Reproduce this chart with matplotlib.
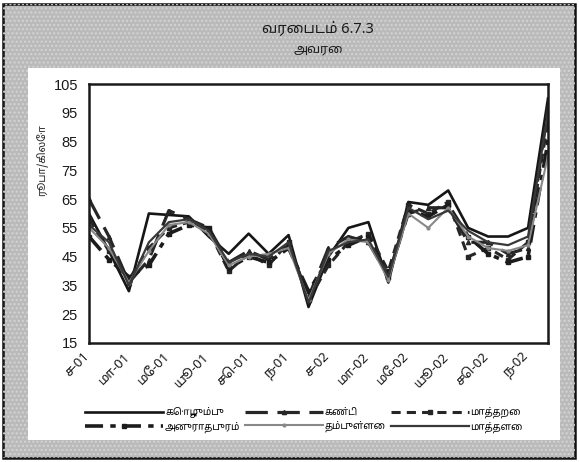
import matplotlib
matplotlib.use("Agg")
import matplotlib.pyplot as plt
from matplotlib.patches import Rectangle
from matplotlib.transforms import ScaledTranslation

TAMIL = ["Noto Sans Tamil", "DejaVu Sans"]
NUM = ["Liberation Sans Narrow", "Liberation Sans", "DejaVu Sans"]

# ── data (Rs/kg, monthly Jan-01 .. Dec-02) ─────────────────────────────────────
months = ["ச-01", "பெ-01", "மா-01", "ஏ-01", "மே-01", "யூ-01", "யூ-01", "ஓ-01",
          "செ-01", "ஒ-01", "ந-01", "டி-01", "ச-02", "பெ-02", "மா-02", "ஏ-02",
          "மே-02", "யூ-02", "யூ-02", "ஓ-02", "செ-02", "ஒ-02", "ந-02", "டி-02"]

colombo      = [60, 47, 33, 60, 59.5, 59, 52, 46, 53, 46, 52.5, 27.5,
                45, 55, 57, 36, 64, 63, 68, 55, 52, 52, 55, 100]
kandy        = [65, 52, 36, 44, 61, 58, 55, 43, 47, 44, 49, 31,
                48, 52, 50, 38, 60, 62, 62, 50, 50, 46, 48, 97]
matara       = [58, 47, 37, 48, 55, 57, 54, 40, 46, 42, 50, 30,
                42, 50, 53, 40, 63, 60, 64, 45, 48, 44, 50, 92]
anuradhapura = [52, 44, 38, 42, 53, 56, 55, 41, 45, 43, 48, 33,
                44, 49, 52, 38, 61, 59, 63, 52, 46, 43, 45, 85]
dambulla     = [55, 48, 36, 47, 56, 57, 53, 42, 45, 46, 48, 30,
                46, 51, 50, 37, 60, 55, 62, 52, 48, 47, 49, 80]
matale       = [56, 50, 35, 50, 57, 58, 54, 43, 46, 45, 50, 29,
                47, 50, 51, 38, 62, 58, 61, 54, 50, 49, 52, 95]

names = ["கொழும்பு", "கண்டி", "மாத்தறை", "அனுராதபுரம்", "தம்புள்ளை", "மாத்தளை"]
yticks = [15, 25, 35, 45, 55, 65, 75, 85, 95, 105]

W, H = 579, 462
fig = plt.figure(figsize=(W / 100, H / 100), dpi=100, facecolor="white")

# ── frame: grey border + white chart area ──────────────────────────────────────
fig.patches.append(Rectangle((3 / W, 4 / H), 572 / W, 454 / H, transform=fig.transFigure,
                             facecolor="#bababa", edgecolor="#111111", lw=1.8, zorder=-3))
fig.patches.append(Rectangle((3 / W, 4 / H), 572 / W, 454 / H, transform=fig.transFigure,
                             facecolor="none", edgecolor="#d4d4d4", hatch="....", lw=0, zorder=-2))
fig.patches.append(Rectangle((28 / W, 22 / H), 532 / W, 372 / H, transform=fig.transFigure,
                             facecolor="white", edgecolor="none", zorder=-1))

fig.text(318 / W, 1 - 30 / H, "வரைபடம் 6.7.3", ha="center", va="center",
         fontsize=10.5, family=TAMIL, color="#1a1a1a")
fig.text(318 / W, 1 - 49 / H, "அவரை", ha="center", va="center",
         fontsize=9, family=TAMIL, color="#1a1a1a")

ax = fig.add_axes([89 / W, 1 - 343 / H, 459 / W, 259 / H])
x = list(range(len(months)))

styles = [
    dict(color="#161616", lw=1.9, ls="-"),
    dict(color="#262626", lw=2.3, ls=(0, (7, 3)), marker="^", ms=3),
    dict(color="#262626", lw=2.2, ls=(0, (3, 2)), marker="s", ms=2.5),
    dict(color="#1c1c1c", lw=2.6, ls=(0, (5, 2, 1.5, 2)), marker="s", ms=2.5),
    dict(color="#888888", lw=1.5, ls="-", marker="o", ms=2),
    dict(color="#383838", lw=1.6, ls="-"),
]
series = [colombo, kandy, matara, anuradhapura, dambulla, matale]
lines = []
for y, name, st in zip(series, names, styles):
    ln, = ax.plot(x, y, label=name, **st)
    lines.append(ln)

ax.set_xlim(0, len(months) - 1)
ax.set_ylim(15, 105)
ax.set_yticks(yticks)
ax.set_yticklabels([str(v) for v in yticks], family=NUM, fontsize=10.5, color="#1a1a1a")
ax.set_xticks(x[::2])
ax.set_xticklabels(months[::2], rotation=45, ha="right", rotation_mode="anchor",
                   family=TAMIL, fontsize=9.5, color="#1a1a1a")
ax.tick_params(axis="y", length=0, pad=8)
ax.tick_params(axis="x", length=0, pad=5)
shift = ScaledTranslation(-6 / 100, 0, fig.dpi_scale_trans)
for lab in ax.get_xticklabels():
    lab.set_transform(lab.get_transform() + shift)
for s in ax.spines.values():
    s.set_linewidth(1.8)
    s.set_color("#1a1a1a")

fig.text(42 / W, 1 - 160 / H, "ரூபா/கிலோ", rotation=90, ha="center", va="center",
         fontsize=7.5, family=TAMIL, color="#222222")

# legend: rows கொழும்பு/கண்டி/மாத்தறை, then அனுராதபுரம்/தம்புள்ளை/மாத்தளை
order = [0, 3, 1, 4, 2, 5]
leg = fig.legend([lines[i] for i in order], [names[i] for i in order],
                 ncol=3, loc="center", bbox_to_anchor=(304 / W, 1 - 420 / H),
                 frameon=False, handlelength=8, handletextpad=0.2, columnspacing=0.5,
                 labelspacing=0.35, prop=dict(family=TAMIL, size=7))

fig.savefig("out.png", dpi=100, facecolor="white")
